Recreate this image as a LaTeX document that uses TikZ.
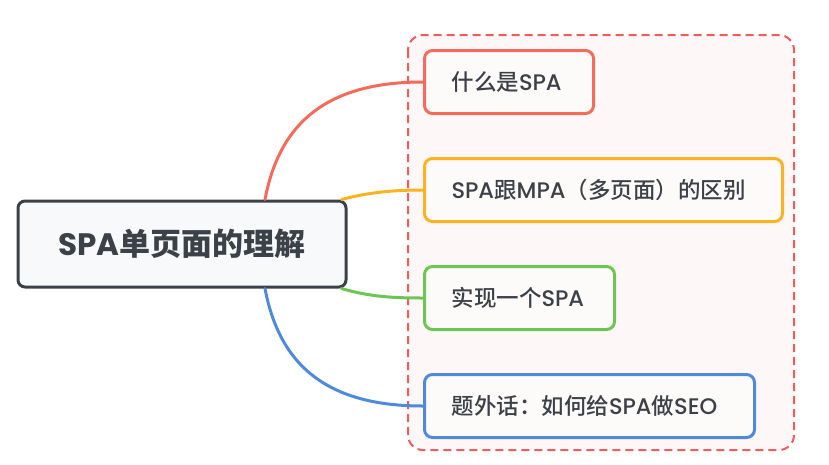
\documentclass[tikz,border=0pt]{standalone}
\usepackage{fontspec}
\setmainfont{Noto Sans CJK SC}
\newfontfamily\latin{Poppins}
\newfontfamily\leafcjk{Noto Sans CJK SC Medium}
\newfontfamily\leaflatin{Poppins Medium}
\definecolor{ink}{HTML}{3C4047}
\definecolor{cred}{HTML}{F26B5B}
\definecolor{corange}{HTML}{FBB321}
\definecolor{cgreen}{HTML}{6DC553}
\definecolor{cblue}{HTML}{4F8AD9}
\definecolor{cdash}{HTML}{EE5C5C}
\definecolor{groupfill}{HTML}{FDF7F7}
\definecolor{rootfill}{HTML}{F8F9FA}
\definecolor{leaffill}{HTML}{FDFAFA}
\newcommand{\lt}[1]{{\leaflatin #1}}
\begin{document}
\begin{tikzpicture}[x=1pt, y=-1pt, line width=3pt]
        \useasboundingbox (0,0) rectangle (829,464);
        \tikzstyle{root}=[draw=ink, fill=rootfill, rounded corners=7pt, minimum width=328pt, minimum height=86pt, text=ink, font=\fontsize{31}{36}\selectfont\bfseries]
        \tikzstyle{leaf}=[draw=#1, fill=leaffill, rounded corners=8pt, minimum height=63pt, inner xsep=27pt, anchor=west, align=left, text=ink, font=\fontsize{22.5}{26}\selectfont\leafcjk]
        \tikzstyle{group}=[draw=cdash, fill=groupfill, line width=2pt, dash pattern=on 8pt off 5pt, rounded corners=15pt]

        \draw[group] (408,35) rectangle (794,450);

        \node[root] (root) at (182,244) {{\latin SPA}单页面的理解};
        \node[leaf=cred, text width=115pt] (what) at (423,82) {什么是\lt{SPA}};
        \node[leaf=corange, text width=304pt] (diff) at (423,190) {\lt{SPA}跟\lt{MPA}（多页面）的区别};
        \node[leaf=cgreen, text width=136pt] (impl) at (423,298) {实现一个\lt{SPA}};
        \node[leaf=cblue, text width=276pt] (seo) at (423,406) {题外话：如何给\lt{SPA}做\lt{SEO}};

        \tikzstyle{branch}=[line width=3pt, line cap=round]
        \draw[branch, cred] ([xshift=83pt]root.north) .. controls (280,120) and (330,82) .. (what.west);
        \draw[branch, corange] ([xshift=-6pt]root.north east) .. controls (370,192) and (395,190) .. (diff.west);
        \draw[branch, cgreen] ([xshift=-6pt]root.south east) .. controls (370,297) and (395,298) .. (impl.west);
        \draw[branch, cblue] ([xshift=83pt]root.south) .. controls (280,368) and (330,406) .. (seo.west);
    \end{tikzpicture}
\end{document}
